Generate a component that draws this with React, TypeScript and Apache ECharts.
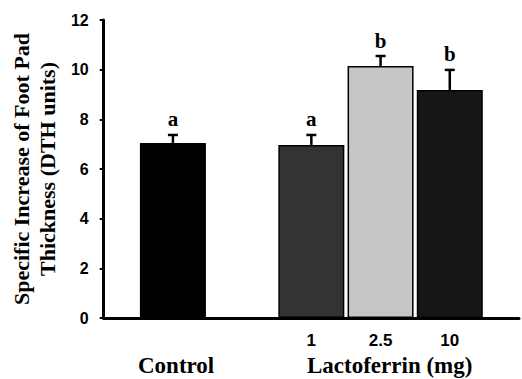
import React, { useEffect, useRef } from "react";
import * as echarts from "echarts";

const xSlots = ["", "Control", "", "1", "2.5", "10", ""];
const groups = ["Control", "1", "2.5", "10"];
const means = [7.05, 6.97, 10.15, 9.18];
const sems = [0.32, 0.4, 0.4, 0.81];
const letters = ["a", "a", "b", "b"];
const barColors = ["#000000", "#333333", "#c6c6c6", "#161616"];
const yTicks = { min: 0, max: 12, interval: 2 };

export default function App() {
  const ref = useRef<HTMLDivElement>(null);
  useEffect(() => {
    if (!ref.current) return;
    const chart = echarts.init(ref.current, null, { renderer: "svg" });
    const barData = xSlots.map((c) => {
      const i = groups.indexOf(c);
      if (i < 0) return "-";
      return {
        value: means[i],
        itemStyle: { color: barColors[i], borderColor: "#000", borderWidth: 1.5 },
      };
    });
    const errData = groups.map((g, i) => [xSlots.indexOf(g), means[i], sems[i], i]);
    chart.setOption({
      animation: false,
      grid: { left: 100, right: 0, top: 20, bottom: 61 },
      xAxis: {
        type: "category",
        data: xSlots,
        boundaryGap: false,
        axisLine: { lineStyle: { color: "#000", width: 3 } },
        axisTick: { show: false },
        axisLabel: {
          interval: 0,
          margin: 14,
          color: "#000",
          fontFamily: "Liberation Sans",
          fontWeight: "bold",
          fontSize: 17,
          formatter: (v: string) => (v === "Control" ? "" : v),
        },
        splitLine: { show: false },
      },
      yAxis: {
        type: "value",
        min: yTicks.min,
        max: yTicks.max,
        interval: yTicks.interval,
        name: "Specific Increase of Foot Pad\nThickness (DTH units)",
        nameLocation: "middle",
        nameRotate: 90,
        nameGap: 39,
        nameTextStyle: {
          fontFamily: "Liberation Serif",
          fontWeight: "bold",
          fontSize: 22,
          lineHeight: 26,
          color: "#000",
        },
        axisLine: { show: true, lineStyle: { color: "#000", width: 3 } },
        axisTick: { show: true, length: 4, lineStyle: { color: "#000", width: 2 } },
        axisLabel: {
          margin: 15,
          color: "#000",
          fontFamily: "Liberation Sans",
          fontWeight: "bold",
          fontSize: 16,
        },
        splitLine: { show: false },
      },
      graphic: [
        {
          type: "text",
          left: 138,
          top: 354,
          style: {
            text: "Control",
            font: 'bold 23px "Liberation Serif"',
            fill: "#000",
          },
        },
        {
          type: "text",
          left: 307,
          top: 354,
          style: {
            text: "Lactoferrin (mg)",
            font: 'bold 23px "Liberation Serif"',
            fill: "#000",
          },
        },
      ],
      series: [
        {
          type: "bar",
          data: barData,
          barWidth: 66,
        },
        {
          type: "custom",
          data: errData,
          z: 5,
          renderItem: (params: any, api: any) => {
            const x = api.value(0);
            const m = api.value(1);
            const s = api.value(2);
            const idx = api.value(3);
            const b = api.coord([x, m]);
            const t = api.coord([x, m + s]);
            return {
              type: "group",
              children: [
                {
                  type: "line",
                  shape: { x1: b[0], y1: b[1], x2: t[0], y2: t[1] },
                  style: { stroke: "#000", lineWidth: 2.5 },
                },
                {
                  type: "line",
                  shape: { x1: t[0] - 5, y1: t[1], x2: t[0] + 5, y2: t[1] },
                  style: { stroke: "#000", lineWidth: 2.5 },
                },
                {
                  type: "text",
                  x: t[0],
                  y: t[1] - 5,
                  style: {
                    text: letters[idx],
                    textAlign: "center",
                    textVerticalAlign: "bottom",
                    font: 'bold 21px "Liberation Serif"',
                    fill: "#000",
                  },
                },
              ],
            };
          },
        },
      ],
    });
    return () => chart.dispose();
  }, []);
  return (
    <div
      ref={ref}
      style={{ position: "absolute", left: 0, top: 0, width: 522, height: 379, background: "#fff" }}
    />
  );
}
